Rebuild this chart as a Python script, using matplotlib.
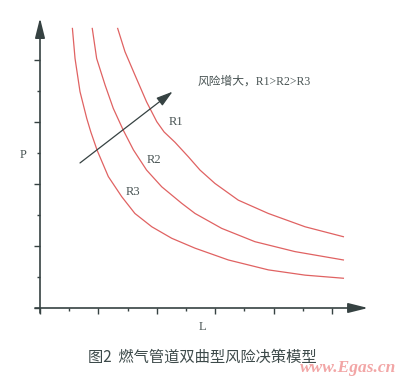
"""Dual-hyperbola risk decision model for gas pipelines (Fig. 2)."""
import matplotlib
matplotlib.use("Agg")
import matplotlib.pyplot as plt

# ---- data (L along x, P along y) ----
r1_L = [2.66, 2.91, 3.25, 3.65, 4.00, 4.25, 4.62, 5.08, 5.48, 5.99, 6.79, 7.82, 9.08, 10.39]
r1_P = [9.02, 8.27, 7.52, 6.65, 6.01, 5.68, 5.35, 4.88, 4.45, 4.02, 3.48, 3.05, 2.62, 2.30]

r2_L = [1.79, 1.94, 2.23, 2.51, 2.85, 3.20, 3.65, 4.17, 4.85, 5.31, 6.22, 7.36, 8.73, 10.39]
r2_P = [9.02, 8.05, 7.19, 6.44, 5.74, 5.10, 4.45, 3.91, 3.38, 3.05, 2.57, 2.14, 1.82, 1.55]

r3_L = [1.11, 1.20, 1.37, 1.60, 1.74, 1.96, 2.34, 2.80, 3.25, 3.83, 4.51, 5.31, 6.45, 7.82,
        9.08, 10.39]
r3_P = [9.02, 8.05, 6.98, 6.12, 5.68, 5.08, 4.24, 3.59, 3.05, 2.62, 2.25, 1.93, 1.55, 1.23,
        1.06, 0.96]

curve_names = ["R1", "R2", "R3"]
label_pos = [(4.64, 6.00), (3.89, 4.77), (3.17, 3.74)]
risk_arrow = [(1.37, 4.68), (4.54, 6.98)]  # tail, head

AXIS = "#364242"
TEXT = "#4a5555"
RED = "#e06262"
SERIF_CJK = ["Liberation Serif", "Noto Sans CJK SC"]

fig = plt.figure(figsize=(4.0, 3.81), dpi=100)
ax = fig.add_axes([0.1, 0.1916, 0.82, 0.761])
xmax, ymax = 328 / 29.2, 290 / 31
ax.set_xlim(0, xmax)
ax.set_ylim(0, ymax)

for xs, ys in [(r1_L, r1_P), (r2_L, r2_P), (r3_L, r3_P)]:
    ax.plot(xs, ys, color=RED, lw=0.9, solid_joinstyle="round")

for name, (x, y) in zip(curve_names, label_pos):
    ax.text(x, y, name, fontsize=9, color=TEXT, family=SERIF_CJK,
            ha="center", va="center")

ax.annotate("", xy=risk_arrow[1], xytext=risk_arrow[0],
            arrowprops=dict(arrowstyle="-|>,head_length=1.0,head_width=0.3",
                            color=AXIS, lw=0.9, shrinkA=0, shrinkB=0))
ax.text(5.41, 7.29, "风险增大，R1>R2>R3", fontsize=8.5, color=TEXT,
        family=SERIF_CJK, ha="left", va="center")

# axes drawn as arrows
for s in ax.spines.values():
    s.set_visible(False)
ax.annotate("", xy=(xmax, 0), xytext=(-0.17, 0), annotation_clip=False,
            arrowprops=dict(arrowstyle="-|>,head_length=1.2,head_width=0.3",
                            color=AXIS, lw=1.2, shrinkA=0, shrinkB=0))
ax.annotate("", xy=(0, ymax), xytext=(0, -0.16), annotation_clip=False,
            arrowprops=dict(arrowstyle="-|>,head_length=1.2,head_width=0.3",
                            color=AXIS, lw=1.2, shrinkA=0, shrinkB=0))

ax.set_xticks([0, 2, 4, 6, 8, 10])
ax.set_xticks([1, 3, 5, 7, 9], minor=True)
ax.set_yticks([0, 2, 4, 6, 8])
ax.set_yticks([1, 3, 5, 7], minor=True)
ax.tick_params(which="major", length=4, width=1.0, color=AXIS,
               labelbottom=False, labelleft=False)
ax.tick_params(which="minor", length=2, width=1.0, color=AXIS)

ax.text(-0.58, 4.94, "P", fontsize=9, color=TEXT, family=SERIF_CJK,
        ha="center", va="center")
ax.text(5.55, -0.61, "L", fontsize=9, color=TEXT, family=SERIF_CJK,
        ha="center", va="center")

fig.text(0.505, 0.063, "图2  燃气管道双曲型风险决策模型", fontsize=11,
         color="#3d4a4a", family=["Noto Sans CJK SC", "DejaVu Sans"],
         ha="center", va="center")
fig.text(0.99, 0.034, "www.Egas.cn", fontsize=12.5, color="#f2a6a6",
         family=["Liberation Serif"], style="italic", weight="bold",
         ha="right", va="center")

fig.savefig("out.png", dpi=100)
